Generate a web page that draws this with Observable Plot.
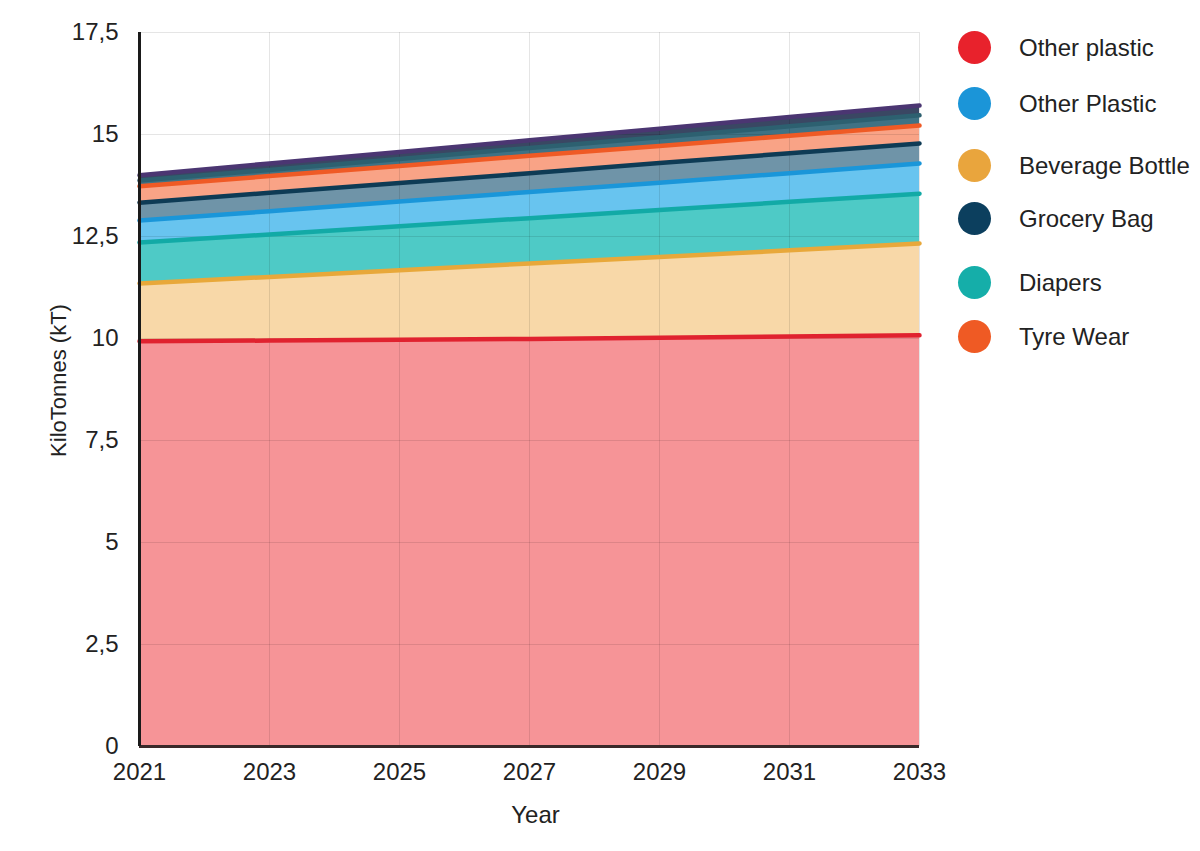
<!DOCTYPE html>
<html>
<head>
<meta charset="utf-8">
<script src="https://cdn.jsdelivr.net/npm/d3@7"></script>
<script src="https://cdn.jsdelivr.net/npm/@observablehq/plot@0.6"></script>
<style>
  html, body { margin: 0; padding: 0; background: #fff; }
  body { font-family: "Liberation Sans", Arial, sans-serif; }
  #wrap { position: relative; width: 1200px; height: 851px; }
  #chart { position: absolute; left: 0; top: 0; }
  #legend { position: absolute; left: 958px; top: 0; }
  .item { position: absolute; left: 0; display: flex; align-items: center; white-space: nowrap; }
  .dot { width: 33px; height: 33px; border-radius: 50%; margin-right: 28px; flex: none; }
  .lab { font-size: 24px; color: #222; }
</style>
</head>
<body>
<div id="wrap">
  <div id="chart"></div>
  <div id="legend"></div>
</div>
<script>
// ---- data ----
const years = [2021, 2023, 2025, 2027, 2029, 2031, 2033];
const seriesNames = ["Other plastic", "Beverage Bottle", "Diapers", "Other Plastic", "Grocery Bag", "Tyre Wear", "Other A", "Other B"];
const otherPlasticRed = [9.93, 9.95, 9.97, 9.99, 10.02, 10.05, 10.08];
const beverageBottle  = [1.42, 1.56, 1.70, 1.85, 1.98, 2.11, 2.25];
const diapers         = [1.00, 1.04, 1.08, 1.11, 1.15, 1.19, 1.22];
const otherPlasticBlue= [0.54, 0.57, 0.61, 0.64, 0.67, 0.70, 0.74];
const groceryBag      = [0.44, 0.45, 0.45, 0.46, 0.48, 0.49, 0.49];
const tyreWear        = [0.40, 0.41, 0.42, 0.43, 0.42, 0.43, 0.44];
const otherA          = [0.14, 0.15, 0.17, 0.19, 0.21, 0.23, 0.25];
const otherB          = [0.13, 0.16, 0.17, 0.19, 0.21, 0.23, 0.24];
const seriesValues = [otherPlasticRed, beverageBottle, diapers, otherPlasticBlue, groceryBag, tyreWear, otherA, otherB];
const fillColors = ["#f69497", "#f8d8a8", "#4ecac6", "#68c4ef", "#6f94a8", "#f9a386", "#3f7284", "#3a4763"];
const lineColors = ["#e0222f", "#e8a83a", "#12aaa6", "#1a96d9", "#0e3b55", "#ef5a25", "#2d6070", "#4b3672"];
const legendNames = ["Other plastic", "Other Plastic", "Beverage Bottle", "Grocery Bag", "Diapers", "Tyre Wear"];
const legendColors = ["#e8222c", "#1b95d8", "#e9a53d", "#0c3f5e", "#15aea9", "#ef5a24"];
const legendY = [48, 104, 166, 219, 283, 337];
const yTicks = [0, 2.5, 5, 7.5, 10, 12.5, 15, 17.5];
const xTicks = [2021, 2023, 2025, 2027, 2029, 2031, 2033];

// ---- table ----
const data = [];
seriesNames.forEach((s, i) => {
  years.forEach((y, j) => {
    data.push({series: s, idx: i, year: y, value: seriesValues[i][j], fill: fillColors[i], line: lineColors[i]});
  });
});

const fmt = d => String(d).replace(".", ",");

const chart = Plot.plot({
  width: 960,
  height: 851,
  marginLeft: 139,
  marginRight: 41,
  marginTop: 32,
  marginBottom: 105,
  style: {fontFamily: "Liberation Sans, Arial, sans-serif", fontSize: "24px", color: "#222", background: "#fff"},
  x: {domain: [2021, 2033], ticks: xTicks, tickFormat: d => String(d), tickSize: 0, tickPadding: 16, label: null},
  y: {domain: [0, 17.5], ticks: yTicks, tickFormat: fmt, tickSize: 0, tickPadding: 21, label: null},
  color: {type: "identity"},
  marks: [
    Plot.areaY(data, Plot.stackY({x: "year", y: "value", z: "series", fill: "fill", order: null, curve: "linear"})),
    Plot.gridX(xTicks, {stroke: "#000", strokeOpacity: 0.1, strokeWidth: 1}),
    Plot.gridY(yTicks, {stroke: "#000", strokeOpacity: 0.1, strokeWidth: 1}),
    Plot.lineY(data, Plot.stackY2({x: "year", y: "value", z: "series", stroke: "line", order: null, strokeWidth: 4.5})),
    Plot.ruleY([0], {stroke: "#3a2a2a", strokeWidth: 3}),
    Plot.ruleX([2021], {stroke: "#1a1a1a", strokeWidth: 3}),
    Plot.axisX({ticks: xTicks, tickFormat: d => String(d), tickSize: 0, tickPadding: 16, fontSize: 24, label: null}),
    Plot.axisY({ticks: yTicks, tickFormat: fmt, tickSize: 0, tickPadding: 21, fontSize: 24, label: null}),
    Plot.text(["Year"], {frameAnchor: "bottom", dx: 6, dy: 76, fontSize: 24, fill: "#222"}),
    Plot.text(["KiloTonnes (kT)"], {frameAnchor: "left", textAnchor: "middle", dx: -81, dy: -9, rotate: -90, fontSize: 22, fill: "#222"})
  ]
});
document.getElementById("chart").appendChild(chart);

const legend = document.getElementById("legend");
legendNames.forEach((n, i) => {
  const it = document.createElement("div");
  it.className = "item";
  it.style.top = (legendY[i] - 17) + "px";
  it.innerHTML = `<span class="dot" style="background:${legendColors[i]}"></span><span class="lab">${n}</span>`;
  legend.appendChild(it);
});
</script>
</body>
</html>
